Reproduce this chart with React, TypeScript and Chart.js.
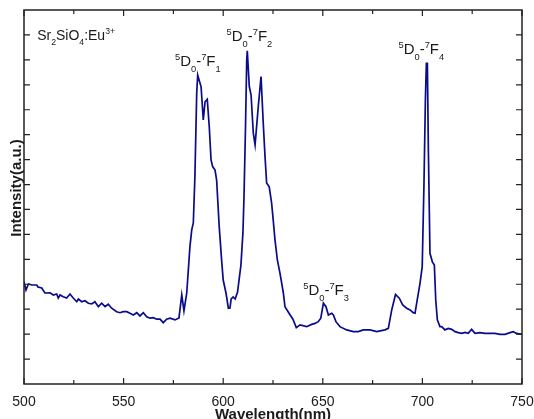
import React, { useEffect, useRef } from 'react';
import { Chart, registerables } from 'chart.js';

Chart.register(...registerables);

// Emission spectrum (wavelength in nm, intensity in a.u.)
const WAVELENGTH = [
  500.0, 501.0, 502.2, 503.9, 506.4, 507.0, 508.9, 510.5, 513.1, 514.7, 516.4, 517.2, 518.1, 519.7,
  521.4, 523.1, 524.7, 526.5, 527.3, 529.0, 530.6, 532.3, 534.0, 535.6, 537.3, 539.0, 540.7, 542.3,
  544.0, 546.5, 548.2, 549.8, 551.6, 553.2, 554.9, 556.6, 558.2, 559.9, 561.6, 563.3, 564.9, 566.6,
  568.3, 569.9, 571.6, 573.3, 575.8, 577.8, 579.2, 580.3, 581.7, 583.3, 584.2, 585.0, 585.8, 586.7,
  587.2, 588.9, 590.0, 590.9, 592.0, 593.0, 593.9, 594.7, 595.9, 596.7, 598.0, 599.2, 600.0, 601.4,
  602.6, 603.4, 604.0, 605.0, 606.0, 607.2, 608.9, 609.9, 610.4, 611.2, 611.8, 612.1, 613.1, 614.0,
  615.1, 616.0, 617.6, 619.0, 620.1, 621.0, 621.8, 623.1, 624.3, 625.1, 626.0, 627.2, 628.5, 630.2,
  631.0, 633.3, 635.0, 636.7, 638.6, 641.9, 644.4, 646.1, 647.7, 649.0, 650.3, 651.6, 652.8, 654.5,
  655.3, 656.6, 658.6, 662.0, 665.3, 667.8, 670.3, 673.7, 677.1, 681.2, 682.9, 684.6, 686.5, 688.4,
  690.1, 692.1, 693.8, 695.4, 696.3, 697.4, 698.8, 699.9, 700.8, 701.5, 702.0, 702.5, 703.0, 703.8,
  705.0, 706.0, 706.7, 707.5, 708.8, 709.7, 711.3, 713.0, 714.7, 716.4, 718.0, 719.7, 721.4, 723.0,
  724.7, 726.4, 728.9, 731.4, 733.9, 736.4, 739.0, 741.5, 744.0, 745.6, 747.3, 749.0, 750.0,
];
const INTENSITY = [
  4.10, 3.77, 4.01, 3.97, 3.97, 3.89, 3.85, 3.65, 3.66, 3.57, 3.61, 3.45, 3.57, 3.50,
  3.45, 3.61, 3.45, 3.30, 3.41, 3.30, 3.34, 3.24, 3.21, 3.30, 3.10, 3.24, 3.10, 3.20,
  3.04, 2.90, 2.86, 2.90, 2.90, 2.84, 2.77, 2.86, 2.73, 2.86, 2.70, 2.64, 2.66, 2.60,
  2.60, 2.46, 2.60, 2.64, 2.57, 2.65, 3.57, 2.93, 3.65, 5.51, 6.18, 6.46, 8.32, 11.67,
  12.39, 11.92, 10.59, 11.32, 11.42, 10.32, 8.99, 8.72, 8.58, 8.18, 6.31, 4.97, 4.17, 3.65,
  3.04, 3.05, 3.41, 3.49, 3.41, 3.69, 4.77, 6.06, 7.38, 10.31, 12.99, 13.36, 11.93, 11.59,
  10.07, 9.59, 11.12, 12.33, 10.47, 9.12, 8.06, 7.91, 7.26, 6.58, 5.78, 4.97, 4.45, 3.65,
  3.10, 2.81, 2.60, 2.26, 2.37, 2.30, 2.39, 2.43, 2.50, 2.64, 3.24, 3.10, 2.77, 2.84,
  2.77, 2.50, 2.30, 2.17, 2.10, 2.10, 2.17, 2.17, 2.10, 2.17, 2.23, 2.97, 3.59, 3.44,
  3.17, 3.04, 2.97, 2.86, 2.84, 3.37, 4.04, 4.70, 8.05, 11.39, 12.86, 12.86, 9.38, 5.24,
  4.90, 4.77, 3.37, 2.57, 2.30, 2.30, 2.17, 2.23, 2.19, 2.10, 2.06, 2.03, 2.07, 2.03,
  2.19, 2.03, 2.06, 2.03, 2.03, 2.03, 1.99, 1.99, 2.06, 2.10, 2.03, 2.00, 2.00,
];

const X_MIN = 500;
const X_MAX = 750;
const Y_MIN = 0;
const Y_MAX = 15;
const X_MAJOR_TICKS = [500, 550, 600, 650, 700, 750];
const X_MINOR_TICKS = [525, 575, 625, 675, 725];
const Y_TICKS = [1, 2, 3, 4, 5, 6, 7, 8, 9, 10, 11, 12, 13, 14];
const X_TITLE = 'Wavelength(nm)';
const Y_TITLE = 'Intensity(a.u.)';

// Transition labels: 5D0 - 7F(J)
const TRANSITION_J = ['1', '2', '3', '4'];
const TRANSITION_ANCHOR_X = [575.8, 601.7, 640.2, 688.0];
const TRANSITION_ANCHOR_Y = [12.74, 13.76, 3.57, 13.22];

const FONT = "'Liberation Sans', Arial, Helvetica, sans-serif";
const LINE_COLOR = '#0a0a8c';
const INK = '#1a1a1a';

type Seg = { t: string; k: 'n' | 'sub' | 'sup' };

function drawRich(ctx: CanvasRenderingContext2D, segs: Seg[], x: number, y: number, size: number) {
  let cx = x;
  ctx.textAlign = 'left';
  ctx.textBaseline = 'alphabetic';
  for (const s of segs) {
    const fs = s.k === 'n' ? size : size * 0.62;
    ctx.font = `${fs}px ${FONT}`;
    const dy = s.k === 'sub' ? size * 0.38 : s.k === 'sup' ? -size * 0.42 : 0;
    ctx.fillText(s.t, cx, y + dy);
    cx += ctx.measureText(s.t).width;
  }
}

const framePlugin = {
  id: 'framePlugin',
  afterDraw(chart: any) {
    const ctx: CanvasRenderingContext2D = chart.ctx;
    const { left, right, top, bottom } = chart.chartArea;
    const xs = chart.scales.x;
    const ys = chart.scales.y;
    ctx.save();
    ctx.strokeStyle = '#222';
    ctx.lineWidth = 1.5;
    ctx.strokeRect(left, top, right - left, bottom - top);
    ctx.lineWidth = 1.2;
    ctx.beginPath();
    for (const v of X_MAJOR_TICKS) {
      const px = xs.getPixelForValue(v);
      ctx.moveTo(px, bottom); ctx.lineTo(px, bottom - 6);
      ctx.moveTo(px, top); ctx.lineTo(px, top + 6);
    }
    for (const v of X_MINOR_TICKS) {
      const px = xs.getPixelForValue(v);
      ctx.moveTo(px, bottom); ctx.lineTo(px, bottom - 4);
      ctx.moveTo(px, top); ctx.lineTo(px, top + 4);
    }
    for (const v of Y_TICKS) {
      const py = ys.getPixelForValue(v);
      ctx.moveTo(left, py); ctx.lineTo(left + 6, py);
      ctx.moveTo(right, py); ctx.lineTo(right - 6, py);
    }
    ctx.stroke();

    // tick labels
    ctx.fillStyle = INK;
    ctx.font = `14px ${FONT}`;
    ctx.textAlign = 'center';
    ctx.textBaseline = 'alphabetic';
    for (const v of X_MAJOR_TICKS) {
      ctx.fillText(String(v), xs.getPixelForValue(v), bottom + 22);
    }
    // axis titles
    ctx.font = `bold 15px ${FONT}`;
    ctx.fillText(X_TITLE, (left + right) / 2, bottom + 34.5);
    ctx.save();
    ctx.translate(20.5, (top + bottom) / 2 - 9);
    ctx.rotate(-Math.PI / 2);
    ctx.fillText(Y_TITLE, 0, 0);
    ctx.restore();

    // compound label
    drawRich(ctx, [
      { t: 'Sr', k: 'n' }, { t: '2', k: 'sub' }, { t: 'SiO', k: 'n' }, { t: '4', k: 'sub' },
      { t: ':Eu', k: 'n' }, { t: '3+', k: 'sup' },
    ], xs.getPixelForValue(506.6), ys.getPixelForValue(13.8), 14);

    // transition labels
    TRANSITION_J.forEach((j, i) => {
      drawRich(ctx, [
        { t: '5', k: 'sup' }, { t: 'D', k: 'n' }, { t: '0', k: 'sub' }, { t: '-', k: 'n' },
        { t: '7', k: 'sup' }, { t: 'F', k: 'n' }, { t: j, k: 'sub' },
      ], xs.getPixelForValue(TRANSITION_ANCHOR_X[i]), ys.getPixelForValue(TRANSITION_ANCHOR_Y[i]), 15);
    });
    ctx.restore();
  },
};

export default function App() {
  const ref = useRef<HTMLCanvasElement | null>(null);
  useEffect(() => {
    if (!ref.current) return;
    const points = WAVELENGTH.map((x, i) => ({ x, y: INTENSITY[i] }));
    const chart = new Chart(ref.current, {
      type: 'line',
      data: {
        datasets: [{
          data: points,
          borderColor: LINE_COLOR,
          borderWidth: 1.7,
          pointRadius: 0,
          tension: 0,
          fill: false,
        }],
      },
      options: {
        animation: false,
        responsive: false,
        maintainAspectRatio: false,
        layout: { padding: { left: 24, right: 12, top: 10, bottom: 35 } },
        plugins: { legend: { display: false }, tooltip: { enabled: false }, title: { display: false } },
        scales: {
          x: { type: 'linear', min: X_MIN, max: X_MAX, display: false },
          y: { type: 'linear', min: Y_MIN, max: Y_MAX, display: false },
        },
      },
      plugins: [framePlugin],
    });
    return () => chart.destroy();
  }, []);
  return (
    <div style={{ position: 'fixed', left: 0, top: 0, width: 534, height: 419, background: '#fff' }}>
      <canvas ref={ref} width={534} height={419} style={{ width: 534, height: 419 }} />
    </div>
  );
}
